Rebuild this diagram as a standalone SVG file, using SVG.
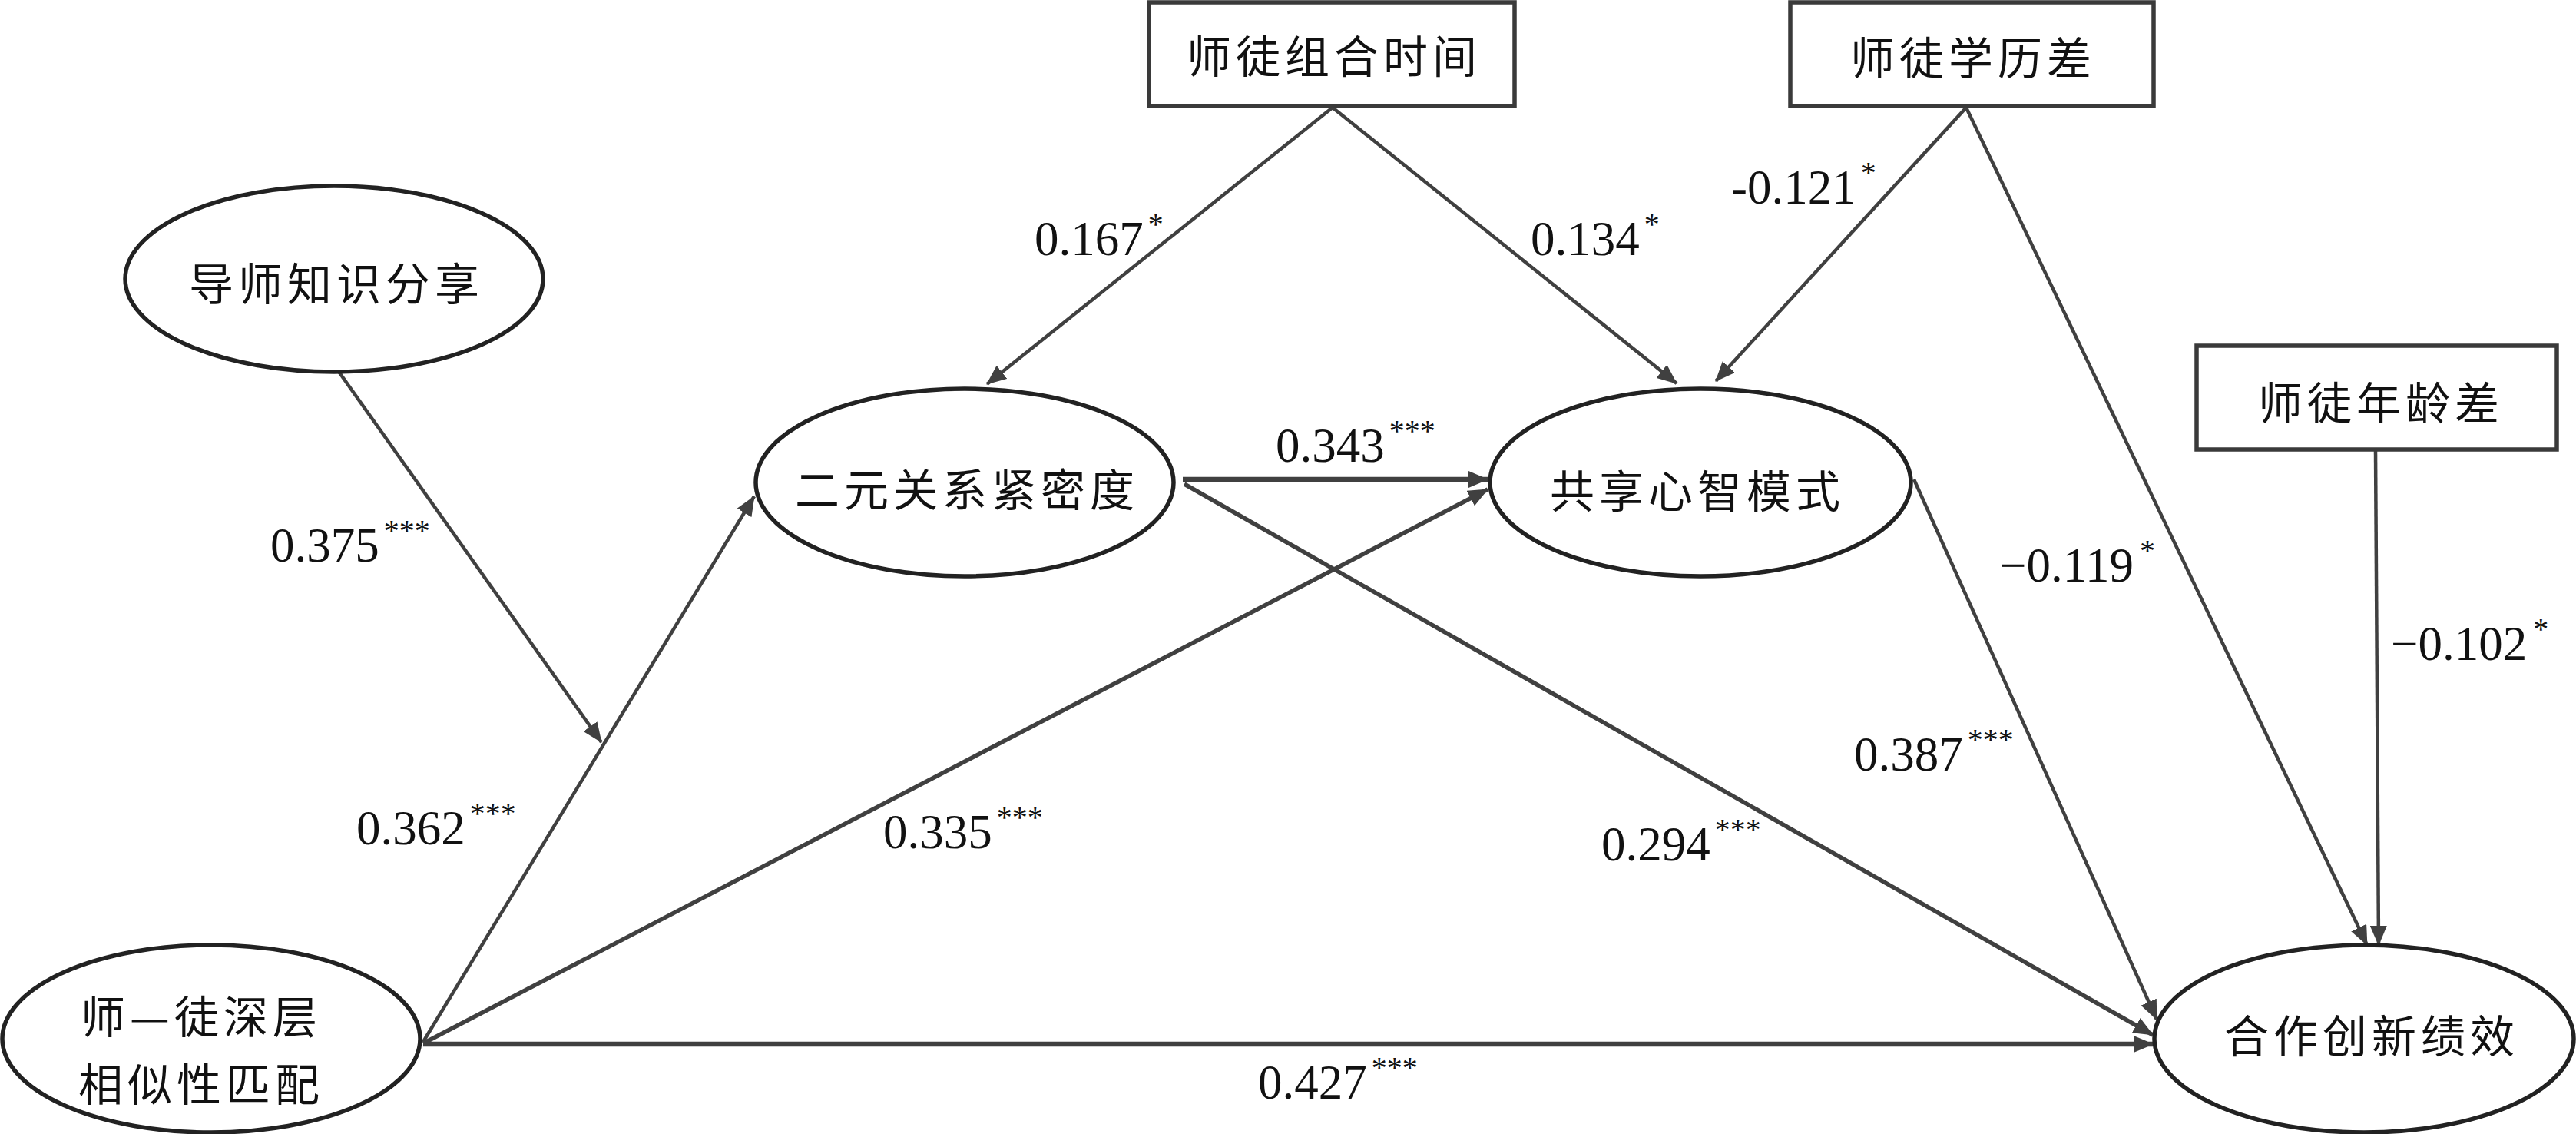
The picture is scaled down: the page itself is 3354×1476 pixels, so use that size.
<svg xmlns="http://www.w3.org/2000/svg" width="3354" height="1476" viewBox="0 0 3354 1476">
<style>
.bg{fill:#ffffff}
.ell{fill:#ffffff;stroke:#222222;stroke-width:5.5}
.box{fill:#ffffff;stroke:#3a3a3a;stroke-width:5.5}
.cn{font-family:"Noto Sans CJK SC","Noto Sans CJK JP",sans-serif;font-size:58px;fill:#111111;text-anchor:middle;dominant-baseline:central;letter-spacing:6px}
.num{font-family:"Liberation Serif","Times New Roman",serif;font-size:63px;fill:#111111}
.sup{font-size:40px}
.ln{stroke:#404040;fill:none;stroke-linecap:butt}
.w4{stroke-width:4.5}
.w5{stroke-width:5.5}
.w6{stroke-width:6.5}
</style>
<defs>
<marker id="arr" markerUnits="userSpaceOnUse" markerWidth="26" markerHeight="22" refX="25" refY="11" orient="auto" viewBox="0 0 26 22">
<path d="M0,0 L26,11 L0,22 z" fill="#404040"/>
</marker>
</defs>
<rect class="bg" x="0" y="0" width="3354" height="1476"/>

<g id="connectors">
<line class="ln w4" x1="437" y1="478" x2="783" y2="966" marker-end="url(#arr)"/>
<line class="ln w4" x1="551" y1="1356" x2="982" y2="646" marker-end="url(#arr)"/>
<line class="ln w5" x1="551" y1="1358" x2="1937" y2="637" marker-end="url(#arr)"/>
<line class="ln w6" x1="1540" y1="624" x2="1937" y2="624" marker-end="url(#arr)"/>
<line class="ln w5" x1="1542" y1="630" x2="2803" y2="1347" marker-end="url(#arr)"/>
<line class="ln w6" x1="551" y1="1359" x2="2803" y2="1359" marker-end="url(#arr)"/>
<line class="ln w4" x1="2492" y1="624" x2="2808" y2="1327" marker-end="url(#arr)"/>
<line class="ln w4" x1="1735" y1="140" x2="1285" y2="500" marker-end="url(#arr)"/>
<line class="ln w4" x1="1735" y1="140" x2="2183" y2="499" marker-end="url(#arr)"/>
<line class="ln w4" x1="2560" y1="140" x2="2234" y2="496" marker-end="url(#arr)"/>
<line class="ln w4" x1="2560" y1="140" x2="3082" y2="1230" marker-end="url(#arr)"/>
<line class="ln w4" x1="3093" y1="586" x2="3097" y2="1230" marker-end="url(#arr)"/>
</g>

<g id="labels">
<text class="num" x="352" y="731">0.375<tspan class="sup" dx="6" dy="-27">***</tspan></text>
<text class="num" x="1347" y="332">0.167<tspan class="sup" dx="6" dy="-27">*</tspan></text>
<text class="num" x="1993" y="332">0.134<tspan class="sup" dx="6" dy="-27">*</tspan></text>
<text class="num" x="2254" y="265">-0.121<tspan class="sup" dx="6" dy="-27">*</tspan></text>
<text class="num" x="1661" y="601">0.343<tspan class="sup" dx="6" dy="-27">***</tspan></text>
<text class="num" x="464" y="1099">0.362<tspan class="sup" dx="6" dy="-27">***</tspan></text>
<text class="num" x="1150" y="1104">0.335<tspan class="sup" dx="6" dy="-27">***</tspan></text>
<text class="num" x="1638" y="1430">0.427<tspan class="sup" dx="6" dy="-27">***</tspan></text>
<text class="num" x="2085" y="1120">0.294<tspan class="sup" dx="6" dy="-27">***</tspan></text>
<text class="num" x="2414" y="1003">0.387<tspan class="sup" dx="6" dy="-27">***</tspan></text>
<text class="num" x="2603" y="757">−0.119<tspan class="sup" dx="8" dy="-27">*</tspan></text>
<text class="num" x="3113" y="859">−0.102<tspan class="sup" dx="8" dy="-27">*</tspan></text>
</g>

<g id="node-zuhe">
<rect class="box" x="1496" y="3" width="476" height="135"/>
<text class="cn" x="1737" y="70">师徒组合时间</text>
</g>
<g id="node-xueli">
<rect class="box" x="2331" y="3" width="473" height="135"/>
<text class="cn" x="2569" y="72">师徒学历差</text>
</g>
<g id="node-nianling">
<rect class="box" x="2860" y="450" width="469" height="135"/>
<text class="cn" x="3100" y="521">师徒年龄差</text>
</g>
<g id="node-daoshi">
<ellipse class="ell" cx="435" cy="363" rx="272" ry="121"/>
<text class="cn" x="438" y="366">导师知识分享</text>
</g>
<g id="node-eryuan">
<ellipse class="ell" cx="1256" cy="628" rx="272" ry="122"/>
<text class="cn" x="1259" y="634">二元关系紧密度</text>
</g>
<g id="node-gongxiang">
<ellipse class="ell" cx="2214" cy="628" rx="274" ry="122"/>
<text class="cn" x="2210" y="636">共享心智模式</text>
</g>
<g id="node-shitu">
<ellipse class="ell" cx="275" cy="1352" rx="272" ry="122"/>
<text class="cn" x="262" y="1320">师—徒深层</text>
<text class="cn" x="262" y="1408">相似性匹配</text>
</g>
<g id="node-hezuo">
<ellipse class="ell" cx="3078" cy="1352" rx="273" ry="122"/>
<text class="cn" x="3088" y="1345">合作创新绩效</text>
</g>
</svg>
